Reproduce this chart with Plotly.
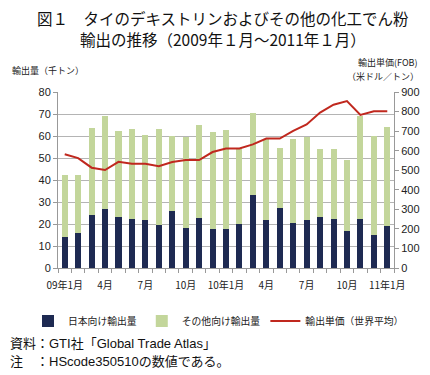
import plotly.graph_objects as go

months = list(range(1, 26))
tick_pos = [1, 4, 7, 10, 13, 16, 19, 22, 25]
tick_labels = ["09年1月", "4月", "7月", "10月", "10年1月", "4月", "7月", "10月", "11年1月"]

japan = [14.3, 16.0, 24.3, 26.9, 23.4, 22.3, 22.0, 19.6, 25.8, 18.4, 22.9, 17.8,
         17.8, 20.1, 33.2, 21.6, 27.2, 20.5, 22.0, 23.1, 22.3, 16.8, 22.3, 14.9, 18.9]
total = [42.3, 42.4, 63.8, 69.0, 62.2, 63.1, 60.5, 63.1, 60.1, 59.6, 64.9, 61.6,
         62.9, 54.3, 70.6, 58.6, 54.6, 58.6, 59.5, 53.9, 54.2, 49.2, 69.3, 60.1, 64.0]
others = [round(t - j, 1) for t, j in zip(total, japan)]
price = [582, 562, 513, 501, 543, 533, 533, 521, 542, 552, 552, 593,
         611, 611, 632, 662, 662, 701, 734, 795, 835, 854, 783, 801, 801]

NAVY = "#1E2A52"
GREEN = "#C3D69B"
RED = "#C0281E"
FONT = "Liberation Sans, Noto Sans CJK JP"
JP = "Noto Sans CJK JP"

fig = go.Figure()
fig.add_trace(go.Bar(x=months, y=japan, name="日本向け輸出量", marker=dict(color=NAVY, line_width=0)))
fig.add_trace(go.Bar(x=months, y=others, name="その他向け輸出量", marker=dict(color=GREEN, line_width=0)))
fig.add_trace(go.Scatter(x=months, y=price, name="輸出単価（世界平均）", mode="lines",
                         line=dict(color=RED, width=2), yaxis="y2"))

# page body has an 8px margin, so work in page coordinates and shift
OFF = 8
W, H = 430 - OFF, 375 - OFF
L, R, T, B = 58 - OFF, 394 - OFF, 92 - OFF, 268 - OFF
pw, ph = R - L, B - T

def px(x):
    return (x - OFF - L) / pw

def py(y):
    return (B - (y - OFF)) / ph

fig.update_layout(
    width=W, height=H,
    margin=dict(l=L, r=W - R, t=T, b=H - B, pad=0, autoexpand=False),
    paper_bgcolor="white", plot_bgcolor="white",
    barmode="stack", bargap=0.55,
    font=dict(family=FONT, size=10, color="#222"),
    showlegend=True,
    legend=dict(orientation="h", x=px(28), y=py(321), xanchor="left", yanchor="middle",
                font=dict(size=9.8, family=JP, color="#222"),
                traceorder="normal", itemwidth=30,
                bgcolor="rgba(0,0,0,0)"),
    xaxis=dict(range=[0.5, 25.5], tickmode="array", tickvals=tick_pos, ticktext=tick_labels,
               ticks="", showgrid=False, showline=True, linecolor="#999", linewidth=1,
               tickfont=dict(size=10, family=JP, color="#222"), automargin=False,
               ticklabelstandoff=8,
               minor=dict(tickmode="array", tickvals=[m - 0.5 for m in months] + [months[-1] + 0.5],
                          ticks="outside", ticklen=4, tickcolor="#999", showgrid=False),
               zeroline=False),
    yaxis=dict(range=[0, 80], dtick=10, showgrid=True, gridcolor="#B4B4B4", gridwidth=1,
               showline=True, linecolor="#999", linewidth=1, ticks="outside", ticklen=4,
               tickcolor="#999", tickfont=dict(size=11, color="#222"), zeroline=False,
               automargin=False),
    yaxis2=dict(range=[0, 900], dtick=100, overlaying="y", side="right", showgrid=False,
                showline=True, linecolor="#999", linewidth=1, ticks="outside", ticklen=4,
                tickcolor="#999", tickfont=dict(size=11, color="#222"), zeroline=False,
                automargin=False),
)

titles = [
    ("図１　タイのデキストリンおよびその他の化工でん粉", py(18)),
    ("輸出の推移（2009年１月～2011年１月）", py(39)),
]
for t, y in titles:
    fig.add_annotation(text=t, x=px(223), y=y, xref="paper", yref="paper",
                       xanchor="center", yanchor="middle", showarrow=False,
                       font=dict(size=15.5, family=JP, color="#111"))

small = [
    ("輸出量（千トン）", px(10), py(70), "left"),
    ("輸出単価(FOB)", px(420), py(62), "right"),
    ("（米ドル／トン）", px(421), py(76), "right"),
]
for t, x, y, anc in small:
    fig.add_annotation(text=t, x=x, y=y, xref="paper", yref="paper", xanchor=anc,
                       yanchor="middle", showarrow=False,
                       font=dict(size=9, family=JP, color="#222"))

notes = [
    ("資料：GTI社「Global Trade Atlas」", py(343)),
    ("注　：HScode350510の数値である。", py(361)),
]
for t, y in notes:
    fig.add_annotation(text=t, x=px(OFF), y=y, xref="paper", yref="paper", xanchor="left",
                       yanchor="middle", showarrow=False,
                       font=dict(size=13, family=FONT, color="#111"))

fig.write_html("out.html")
